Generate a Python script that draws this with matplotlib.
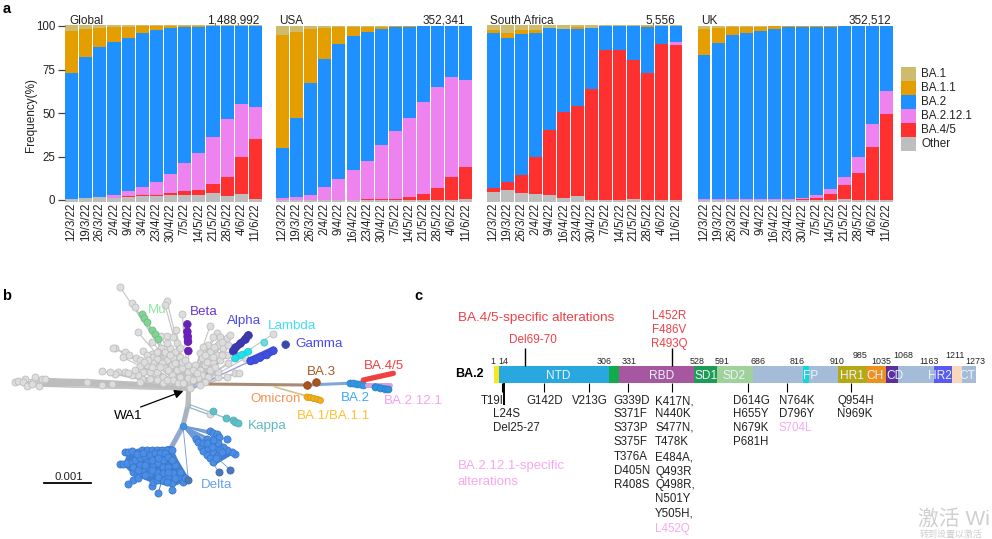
import numpy as np
import matplotlib
matplotlib.use("Agg")
import matplotlib.pyplot as plt
from matplotlib.patches import Rectangle, Polygon

plt.rcParams['font.family'] = ['Liberation Sans', 'Noto Sans CJK SC', 'DejaVu Sans']

W, H = 992, 539
weeks = ['12/3/22','19/3/22','26/3/22','2/4/22','9/4/22','16/4/22','23/4/22','30/4/22','7/5/22','14/5/22','21/5/22','28/5/22','4/6/22','11/6/22']
weeks_global = ['12/3/22','19/3/22','26/3/22','2/4/22','9/4/22','3/4/22','23/4/22','30/4/22','7/5/22','14/5/22','21/5/22','28/5/22','4/6/22','11/6/22']
lineages = ['BA.1','BA.1.1','BA.2','BA.2.12.1','BA.4/5','Other']
lineage_colors = ['#CDBB6E','#E59E00','#1E90FF','#EE82EE','#FF3030','#BEBEBE']

# Upper edge of each stacked layer (%)
g_other = [0.7,1,1.5,1.2,2,2.3,2.4,2.7,3,2.8,3.8,2.3,3.4,0.3]
g_ba45  = [0.7,1,1.5,1.2,2.1,2.8,3.1,4.2,5.2,5.5,9,13.2,24.5,35]
g_ba212 = [0.8,1.1,1.6,2.8,5.3,7.5,10.3,15,21.4,27,36,46.5,55,53.3]
g_ba2   = [73,82.2,88,91,93.2,96,97.7,98.9,99.4,99.4,100,100,100,100]
g_ba11  = [97,98,99,99.3,99.7,100,100,100,100,100,100,100,100,100]

u_other = [0.2,0.2,0.1,0.1,0.1,0.2,0.2,0.2,0.2,0.2,0.2,0.2,0.2,0.4]
u_ba45  = [0.2,0.2,0.1,0.1,0.1,0.2,0.3,0.5,0.7,1.6,3.5,7,13.3,19]
u_ba212 = [1,1.7,3,7.2,12,17.2,22.6,31.5,39.4,47.4,56.2,65,70.8,69]
u_ba2   = [30,47.4,67,81,89.5,94.3,96.4,98.3,99.2,99.2,100,100,100,100]
u_ba11  = [94.6,96.5,98,99,99.6,99.6,99.6,99.7,99.8,99.9,100,100,100,100]

s_other = [4.6,5.7,3.8,3.4,2.9,1.1,2.3,0.2,0.1,0.1,0.6,0,0,0]
s_ba45  = [7,10.3,14.4,24.7,40.2,50.6,54,63.7,86,86.3,80.7,73,89.7,89]
s_ba212 = [7,10.3,14.4,24.7,40.2,50.6,54,63.7,86,86.3,80.7,73,89.7,90.6]
s_ba2   = [96,93,95.4,96,98.7,98.2,98.4,99,100,100,100,99.5,100,100]
s_ba11  = [97.5,96,97.5,97.5,98.7,98.2,99.3,99,100,100,100,100,100,100]

k_other = [0,0,0,0,0,0,0,0.1,0,0,0.3,0.1,0,0]
k_ba45  = [0,0,0,0,0,0,0,0.5,1.3,3.4,8.4,15.3,30.5,49.6]
k_ba212 = [0.3,0.3,0.3,0.3,0.3,0.3,0.5,1.4,2.7,6.2,13.5,25,43.4,62.4]
k_ba2   = [83.5,90.5,94.7,96.2,97.3,98.5,99.2,99.6,99.7,99.7,100,100,100,100]
k_ba11  = [98,98.7,99.3,99.5,99.7,99.8,99.8,99.8,99.8,99.8,100,100,100,100]

panels = [
    ('Global','1,488,992',(g_other,g_ba45,g_ba212,g_ba2,g_ba11),100.5,weeks_global,64.5,262.5),
    ('USA','352,341',(u_other,u_ba45,u_ba212,u_ba2,u_ba11),100,weeks,275.5,473),
    ('South Africa','5,556',(s_other,s_ba45,s_ba212,s_ba2,s_ba11),100.5,weeks,486.5,683),
    ('UK','352,512',(k_other,k_ba45,k_ba212,k_ba2,k_ba11),100,weeks,697,893.5),
]

# Spike protein domains
dom_start = [1,14,306,331,528,591,686,816,833,910,985,1035,1068,1163,1211,1236]
dom_end   = [14,306,331,528,591,686,816,833,910,985,1035,1068,1163,1211,1236,1273]
dom_color = ['#F8E71C','#29A8E0','#12AB4A','#A657A0','#1E9B55','#A0D199','#A5BCD9','#10D8D8','#A5BCD9','#B5A815','#EF8F1E','#5B2F9F','#A5BCD9','#5A5AF0','#F8D7BC','#A5BCD9']
dom_names = [('NTD',558),('RBD',662),('SD1',706),('SD2',734),('FP',811),('HR1',852),('CH',875),('CD',894.6),('HR2',939.6),('CT',967)]
pos_labels = [('1',492.8,361),('14',503.7,361),('306',604,362),('331',628.7,362),('528',697.4,362),('591',722.4,362),('686',758,362),('816',797.4,361),('910',837,361),('985',860,356),('1035',881,362),('1068',903.4,356),('1163',929.4,361),('1211',954.8,356),('1273',975.6,361)]

fig = plt.figure(figsize=(W/100, H/100), dpi=100)

def add_px_axes(x0, x1, ytop, ybot):
    return fig.add_axes([x0/W, 1-ybot/H, (x1-x0)/W, (ybot-ytop)/H])

Y_TOP_PX, Y_BOT_PX = 24.0, 202.2
PCT0, PX_PER = 200.0, 1.74

for i, (name, total, edges, top, labels, x0, x1) in enumerate(panels):
    ax = add_px_axes(x0, x1, Y_TOP_PX, Y_BOT_PX)
    ax.set_xlim(-0.5, 13.5)
    ax.set_ylim((PCT0-Y_BOT_PX)/PX_PER, (PCT0-Y_TOP_PX)/PX_PER)
    x = np.arange(14)
    low = np.full(14, -1.0)
    cols = lineage_colors[::-1]
    stacks = list(edges) + [np.full(14, float(top))]
    for c, up in zip(cols, stacks):
        up = np.asarray(up, float)
        ax.bar(x, up-low, bottom=low, width=0.92, color=c, linewidth=0)
        low = np.maximum(low, up)
    for s in ax.spines.values():
        s.set_visible(False)
    ax.patch.set_alpha(0)
    ax.set_xticks(x)
    ax.set_xticklabels(labels, rotation=90, fontsize=8.3, color='#222222')
    ax.tick_params(axis='x', length=0, pad=0.5)
    if i == 0:
        ax.set_yticks([0,25,50,75,100])
        ax.tick_params(axis='y', length=5, width=0.9, color='#444444', labelsize=8.3, labelcolor='#222222', pad=1.5)
    else:
        ax.set_yticks([])

ov = fig.add_axes([0,0,1,1], zorder=5)
ov.set_xlim(0, W); ov.set_ylim(H, 0); ov.axis('off'); ov.patch.set_alpha(0)

ov.text(31, 115, 'Frequency(%)', rotation=90, ha='center', va='center', fontsize=8.5, color='#222222')
for lab, px, tx, rx in [('Global',69,'1,488,992',259),('USA',279,'352,341',465),('South Africa',490,'5,556',675),('UK',701,'352,512',891)]:
    ov.text(px, 20.5, lab, fontsize=8.5, va='center', color='#222222')
    ov.text(rx, 20.5, tx, fontsize=8.5, va='center', ha='right', color='#222222')

# Legend
for j, (lab, c) in enumerate(zip(lineages, lineage_colors)):
    ov.add_patch(Rectangle((901, 67+14*j), 15, 14, color=c, lw=0))
    ov.text(921, 74+14*j, lab, fontsize=8.4, va='center', color='#222222')

for t, x, y in [('a',7,9),('b',7,296),('c',418,296)]:
    ov.text(x, y, t, fontsize=10.5, fontweight='bold', ha='center', va='center', color='black')

# ---- panel b: tree, tip positions (px in zoom crops)
root = (188.5, 390)
grey_left = [(361,22),(397,70),(405,82),(501,62),(495,75),(547,103),(413,156),(528,150),(482,168),(500,168),(457,185),(345,203),(340,203),(375,215),(368,232),(388,225),(407,234),(420,240),(430,212),(455,222),(460,230),(470,237),(482,205),(495,215),(510,205),(525,215),(530,190),(500,188),(520,235),(540,230),(500,240),(485,250),(460,250),(440,255),(420,258),(430,275),(450,275),(470,275),(495,265),(515,255),(530,270),(545,265),(565,255),(563,275),(565,295),(540,290),(515,285),(490,290),(470,300),(450,298),(425,297),(415,285),(395,285),(375,277),(355,277),(345,283),(330,277),(305,272),(262,306),(305,316),(335,312),(420,305),(490,310),(570,325),(45,306),(55,304),(75,298),(70,305),(80,318),(100,305),(105,292),(118,318),(125,297),(135,296),(95,312),
             (440,225),(475,215),(510,225),(545,245),(525,250),(505,270),(480,262),(455,262),(405,270),(385,280),(520,300),(500,300),(535,310),(550,310),(555,240),(540,205),(520,170),(470,215),(445,240),(432,245)]
grey_right = [(270,108),(458,133),(290,130),(280,140),(300,140),(320,145),(330,135),(265,165),(250,170),(240,190),(270,185),(295,165),(310,175),(325,165),(245,205),(265,205),(290,195),(300,210),(280,215),(320,195),(345,205),(360,195),(375,205),(255,225),(240,240),(270,240),(245,255),(265,260),(295,262),(320,260),(345,250),(358,248),(235,265),(255,275),(225,225),(220,270),(240,285),(295,245),(325,220),(220,240),
              (282,170),(305,155),(255,195),(280,200),(305,195),(260,215),(285,230),(230,250)]
mu_tips = [(425,102),(432,115),(440,127),(457,150),(465,163),(473,176)]
beta_tips = [(562,133),(562,155),(563,170),(564,185),(565,213)]
alpha_tips = [(385,135),(375,148),(360,160),(345,172),(338,182)]
lambda_tips = [(433,158),(385,185),(365,195),(345,205)]
gamma_tips = [(497,164),(460,182),(440,195),(420,203),(405,210),(392,213)]
kappa_tips = [(338,48),(378,68),(398,75),(405,80),(415,85)]
delta_main = [(75,172),(85,172),(95,168),(115,170),(125,165),(140,165),(155,165),(170,165),(185,165),(200,165),(215,165),(60,208),(70,208),(80,205),(95,200),(105,195),(120,190),(135,185),(150,180),(165,175),(180,175),(195,175),(100,232),(110,240),(120,235),(130,225),(145,215),(160,210),(175,205),(190,195),(205,185),(100,255),(85,268),(115,250),(155,272),(160,260),(170,255),(175,293),(190,255),(205,245),(220,235),(215,265),(215,285),(235,245),(250,262),(255,250),(240,230),(225,210),(215,195),(120,210),(140,200),(155,195),(175,190),(190,215),(205,215),(170,230),(190,235),(150,235),
              (110,178),(130,175),(100,215),(115,225),(135,210),(155,225),(175,245),(135,240),(205,232),(225,250),(200,262)]
delta_side = [(330,108),(340,113),(350,118),(358,125),(380,133),(287,132),(295,142),(302,155),(310,168),(320,180),(330,190),(340,200),(405,178),(395,172),(380,165),(370,155),(355,145),(340,135),(322,132),(310,145),(325,160),(340,170),(355,180),(335,155),(360,165),(320,145),(348,190),(365,172)]
delta_dark = [(265,255),(358,231),(390,224)]
ba1_tips = [(920,350),(930,352),(940,355),(950,358),(960,360)]
ba3_tips = [(920,314),(948,306)]
ba2_tips = [(240,85),(250,85),(260,87),(270,88),(280,90)]
ba2b_tips = [(315,95),(330,100),(345,103),(355,103)]
ba212_tips = [(290,90),(300,90),(320,88),(350,90),(360,90)]
ba45_tips = [(280,75),(295,70),(305,70),(325,65),(340,62),(355,60),(370,55)]

def crop(pts, x0, y0, k=3.0):
    a = np.array(pts, float)
    return a[:,0]/k + x0, a[:,1]/k + y0

def fan(pts, org, color, lw=0.8, z=2):
    for xx, yy in zip(*pts):
        ov.plot([org[0], xx], [org[1], yy], color=color, lw=lw, zorder=z, solid_capstyle='round')

def dots(pts, color, edge, s=25, z=4, alpha=1):
    ov.scatter(pts[0], pts[1], s=s, c=color, edgecolors=edge, linewidths=0.6, zorder=z, alpha=alpha)

def capsule(pts, i0, i1, color, lw=5, z=4):
    ov.plot([pts[0][i0], pts[0][i1]], [pts[1][i0], pts[1][i1]], color=color, lw=lw, zorder=z, solid_capstyle='round')

GL = crop(grey_left, 0, 280)
GR = crop(grey_right, 120, 290)
fan(GL, root, '#C4C4C4'); fan(GR, root, '#C4C4C4')
ov.add_patch(Polygon([(43,378),(87,379),(143,382),(188,388),(188,390),(143,387),(87,386),(43,387)], color='#BDBDBD', lw=0, zorder=2))
dots(GL, '#DDDDDD', '#BEBEBE'); dots(GR, '#DDDDDD', '#BEBEBE')

MU = crop(mu_tips, 0, 280); BE = crop(beta_tips, 0, 280)
AL = crop(alpha_tips, 120, 290); LA = crop(lambda_tips, 120, 290); GA = crop(gamma_tips, 120, 290)
ov.plot([root[0], MU[0][-1]], [root[1], MU[1][-1]], color='#C8C8C8', lw=1, zorder=2)
ov.plot([MU[0][0], MU[0][-1]], [MU[1][0], MU[1][-1]], color='#7FD08F', lw=1.2, zorder=3)
ov.plot([root[0], BE[0][-1]], [root[1], BE[1][-1]], color='#C8C8C8', lw=1, zorder=2)
ov.plot([root[0], AL[0][-1]], [root[1], AL[1][-1]], color='#9A9AD0', lw=1, zorder=2)
ov.plot([root[0], LA[0][-1]], [root[1], LA[1][-1]], color='#B0D0D8', lw=1, zorder=2)
ov.plot([root[0], GA[0][-1]], [root[1], GA[1][-1]], color='#9AA0D8', lw=1, zorder=2)
dots(MU, '#82D494', '#6CBF80')
capsule(BE, 1, 3, '#6A1FB8', lw=5.2)
dots(BE, '#6A1FB8', ['#5B3A9E','#6A1FB8','#6A1FB8','#6A1FB8','#6A1FB8'], s=30)
capsule(AL, 0, 1, '#3C36A0', lw=5.5); capsule(AL, 1, 4, '#3A30C0', lw=5.2)
dots(AL, '#3C36B0', '#3D3DA0', s=30)
capsule(LA, 1, 3, '#22E0E8', lw=4.4)
dots(LA, ['#7FD4D8','#22E0E8','#22E0E8','#22E0E8'], '#20D0D8', s=24)
capsule(GA, 1, 5, '#3F4FE0', lw=5.8)
dots(GA, ['#3B4A9E']+['#3F4FE0']*5, '#3B4ACC', s=30)

# trunk and Delta / Kappa branches
ov.plot([root[0],188,183],[root[1],405,426], color='#A9B2C0', lw=3.6, zorder=3, solid_capstyle='round')
ov.plot([183,171.7],[426,446.7], color='#93A8CE', lw=3.6, zorder=3)
ov.plot([188,188],[root[1],405], color='#BDBDBD', lw=3.6, zorder=3)
KA = crop(kappa_tips, 100, 395)
ov.plot([188,210,238],[404,412,423], color='#8FBFC4', lw=0.9, zorder=3)
ov.plot([188,210],[407,415], color='#9AB0C0', lw=0.9, zorder=3)
dots(crop([(330,57)], 100, 395), '#DDDDDD', '#BEBEBE', z=4)
dots(KA, '#5FC0C8', '#4FB0B8')

org_main = (171.7, 446.7); org_side = (183, 426)
DM = crop(delta_main, 100, 395); DS = crop(delta_side, 100, 395); DD = crop(delta_dark, 100, 395)
ov.add_patch(Polygon([(128,452),(171,448),(190,480),(172,487),(150,482),(133,475),(123,465)], color='#3E7FD4', lw=0, zorder=3))
ov.add_patch(Polygon([(196,439),(210,438),(232,455),(215,465)], color='#3E7FD4', lw=0, zorder=3))
fan(DM, org_main, '#4A82D0', lw=0.7, z=3)
fan(DS, org_side, '#6D9AD4', lw=0.8, z=3)
fan(DD, org_side, '#6D9AD4', lw=0.6, z=3)
dots(DM, '#4A8EE8', '#3C78C8', s=26)
dots(DS, '#4A8EE8', '#3C78C8', s=26)
dots(DD, '#4A78B8', '#3E6AA8', s=26)
dots(([org_side[0]],[org_side[1]]), '#3E96EA', '#3A86D0', s=22)

# Omicron branches
ov.plot([203,307],[384,385], color='#A98B75', lw=2.2, zorder=3)
ov.plot([307,355],[385,383], color='#7FA8D8', lw=2.2, zorder=3)
ov.plot([275,310],[387,397], color='#D8C08A', lw=1.2, zorder=3)
dots(crop(ba3_tips, 0, 280), '#A8541E', '#96481A', s=30)
B1 = crop(ba1_tips, 0, 280); B2 = crop(ba2_tips, 270, 355); B2b = crop(ba2b_tips, 270, 355)
B212 = crop(ba212_tips, 270, 355); B45 = crop(ba45_tips, 270, 355)
capsule(B1, 0, 4, '#F0B020', lw=4.6)
dots(B1, '#F0B020', '#D89C18', s=18)
capsule(B2, 0, 4, '#3498E0', lw=5)
dots(B2, '#3498E0', '#2E88CC', s=24)
capsule(B212, 0, 4, '#DDA0DD', lw=3.6)
capsule(B2b, 0, 3, '#2E90E0', lw=4.8, z=5)
dots(B2b, '#2E90E0', '#2A80CC', s=24, z=5)
capsule(B45, 0, 6, '#F04040', lw=3.8)

tree_labels = [('Mu',157,310,'#90E8A0'),('Beta',204,312,'#6A35D0'),('Alpha',244,321,'#4A4AE8'),('Lambda',292,326,'#40E0F0'),('Gamma',319,344,'#4A4AF0'),('BA.3',321,372,'#A65A28'),('BA.4/5',384,366,'#F04040'),('BA.2',355,398,'#40A8F8'),('BA.2.12.1',413,401,'#F8A0F0'),('Omicron',276,399,'#F89050'),('BA.1/BA.1.1',333,416,'#FFC030'),('Kappa',267,426,'#60B8C0'),('Delta',217,485,'#6AA0F0'),('WA1',128,416,'black')]
for t, x, y, c in tree_labels:
    ov.text(x, y, t, fontsize=9.6, color=c, ha='center', va='center', zorder=6)
ov.annotate('', xy=(186,390), xytext=(138,408), arrowprops=dict(arrowstyle='-|>', color='black', lw=0.9, mutation_scale=13), zorder=6)
ov.plot([44,91],[483,483], color='black', lw=1.3, zorder=6)
ov.text(69, 477, '0.001', fontsize=8.2, ha='center', va='center', color='#222222')

# ---- panel c: domain bar on an amino-acid scale
aa0, aa1, px0, px1 = 1, 1273, 493.9, 975.9
k = (px1-px0)/(aa1-aa0)
dom = fig.add_axes([0,0,1,1], zorder=4)
dom.set_xlim(aa0-px0/k, aa0+(W-px0)/k); dom.set_ylim(H, 0); dom.axis('off'); dom.patch.set_alpha(0)
for st, en, c in zip(dom_start, dom_end, dom_color):
    dom.add_patch(Rectangle((st, 366), en-st, 17, facecolor=c, lw=0))

for t, x, y in pos_labels:
    ov.text(x, y, t, fontsize=6.4, ha='center', va='center', color='#222222', zorder=6)
for t, x in dom_names:
    ov.text(x, 376, t, fontsize=8.6, ha='center', va='center', color='#EAF4FB', zorder=6)
ov.text(455.5, 374, 'BA.2', fontsize=9, fontweight='bold', va='center', color='black')

for x, y0, y1, lw in [(524.9,348,366,1),(671.7,348,366,1),(501.6,383,392,0.8),(503.7,383,405,1.4),(543.9,383,392,0.8),(589.3,383,392,0.8),(627.7,383,392,0.8),(671.7,383,392,0.8),(748,383,392,0.8),(787,383,392,0.8),(851.3,383,392,0.8)]:
    ov.plot([x,x],[y0,y1], color='black', lw=lw, zorder=6, solid_capstyle='butt')

RED, PINK, TXT = '#F04048', '#F8A8F0', '#222222'
ov.text(457.6, 318, 'BA.4/5-specific alterations', fontsize=9.7, color=RED, va='center')
ov.text(532.6, 340, 'Del69-70', fontsize=8.5, color=RED, ha='center', va='center')
for t, y in [('L452R',316),('F486V',330),('R493Q',344)]:
    ov.text(669, y, t, fontsize=8.3, color=RED, ha='center', va='center')
ov.text(457.6, 466, 'BA.2.12.1-specific', fontsize=9.5, color=PINK, va='center')
ov.text(457.6, 481.7, 'alterations', fontsize=9.5, color=PINK, va='center')

def col(x, ys, items, colors=None):
    for idx, (y, t) in enumerate(zip(ys, items)):
        c = TXT if colors is None else colors[idx]
        ov.text(x, y, t, fontsize=8.3, color=c, va='center', zorder=6)

col(481, [401], ['T19I'])
col(492.8, [414,428], ['L24S','Del25-27'])
ov.text(544.6, 401, 'G142D', fontsize=8.3, ha='center', va='center', color=TXT)
ov.text(589.6, 401, 'V213G', fontsize=8.3, ha='center', va='center', color=TXT)
col(613.6, [401,414,428,442,457,471,485], ['G339D','S371F','S373P','S375F','T376A','D405N','R408S'])
col(655, [401,414,428,442,457,472,485,499,513,529], ['K417N,','N440K','S477N,','T478K','E484A,','Q493R','Q498R,','N501Y','Y505H,','L452Q'], [TXT]*9+[PINK])
col(733, [401,414,428,442], ['D614G','H655Y','N679K','P681H'])
col(778.7, [401,414,428], ['N764K','D796Y','S704L'], [TXT,TXT,PINK])
col(837.5, [401,414], ['Q954H','N969K'])

# system watermark visible in the reference
ov.text(918, 519, '激活 Wi', fontsize=15, color='#CFCFCF', va='center', zorder=7)
ov.text(920, 534, '转到设置以激活', fontsize=6.5, color='#CFCFCF', va='center', zorder=7)

fig.savefig('out.png', dpi=100)
